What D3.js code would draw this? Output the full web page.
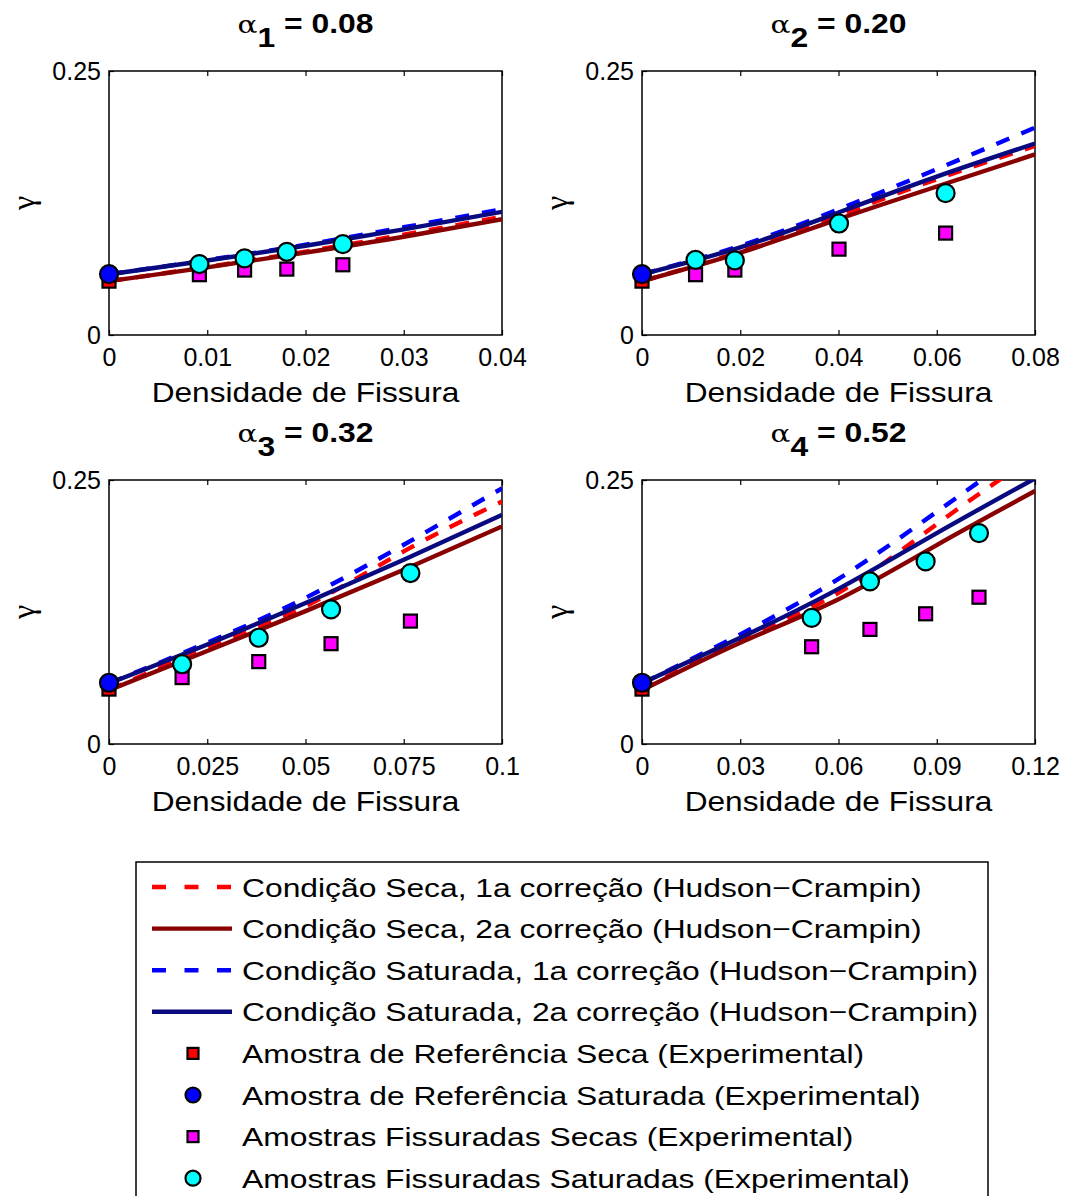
<!DOCTYPE html>
<html><head><meta charset="utf-8">
<script src="https://cdn.jsdelivr.net/npm/d3@7"></script>
<style>
body{margin:0;background:#fff;}
svg{display:block;font-family:"Liberation Sans",Arial,sans-serif;}
</style></head>
<body><svg id="c" width="1070" height="1196"></svg>
<script>
// ---------- DATA ----------
const alphaIndex = ["1","2","3","4"];
const alphaValues = ["0.08","0.20","0.32","0.52"];
const xMax = [0.04, 0.08, 0.1, 0.12];
const xTickValues = [
  [0,0.01,0.02,0.03,0.04],
  [0,0.02,0.04,0.06,0.08],
  [0,0.025,0.05,0.075,0.1],
  [0,0.03,0.06,0.09,0.12]
];
const xTickLabels = [
  ["0","0.01","0.02","0.03","0.04"],
  ["0","0.02","0.04","0.06","0.08"],
  ["0","0.025","0.05","0.075","0.1"],
  ["0","0.03","0.06","0.09","0.12"]
];
const yTickValues = [0, 0.25];
const yTickLabels = ["0","0.25"];
const xLabel = "Densidade de Fissura";
const yLabel = "γ";

// model curves: crack density grid per panel
const curveX = [
  [0,0.01,0.02,0.03,0.04],
  [0,0.02,0.04,0.06,0.08],
  [0,0.025,0.05,0.075,0.1],
  [0,0.03,0.06,0.09,0.12]
];
const dryHC1 = [
  [0.051,0.0645,0.079,0.095,0.112],
  [0.051,0.079,0.113,0.1475,0.179],
  [0.051,0.0912,0.1305,0.1824,0.2296],
  [0.051,0.099,0.1431,0.2082,0.273]
];
const dryHC2 = [
  [0.051,0.064,0.078,0.093,0.1097],
  [0.051,0.078,0.1097,0.1406,0.171],
  [0.051,0.088,0.1258,0.1651,0.206],
  [0.051,0.0959,0.1371,0.1884,0.2396]
];
const satHC1 = [
  [0.0575,0.071,0.0855,0.102,0.119],
  [0.0575,0.0845,0.119,0.157,0.1964],
  [0.0575,0.0959,0.1384,0.1887,0.2421],
  [0.0575,0.1038,0.1563,0.2199,0.286]
];
const satHC2 = [
  [0.0575,0.0705,0.0845,0.100,0.1166],
  [0.0575,0.083,0.116,0.150,0.1813],
  [0.0575,0.0943,0.1336,0.1745,0.217],
  [0.0575,0.1006,0.1469,0.1997,0.2515]
];
// experimental
const refDryGamma = [0.051,0.051,0.052,0.052];
const refSatGamma = [0.0577,0.0577,0.058,0.058];
const crackDensity = [
  [0.0092,0.0138,0.0181,0.0238],
  [0.0109,0.0189,0.0401,0.0618],
  [0.0186,0.0381,0.0565,0.0767],
  [0.0518,0.0696,0.0866,0.1029]
];
const dryGamma = [
  [0.0571,0.0615,0.0624,0.0665],
  [0.0571,0.0615,0.0813,0.0965],
  [0.0629,0.078,0.095,0.1164],
  [0.0921,0.1085,0.1233,0.139]
];
const satGamma = [
  [0.0672,0.0725,0.0788,0.0861],
  [0.0712,0.0706,0.1056,0.1343],
  [0.0755,0.1006,0.1274,0.1619],
  [0.1195,0.154,0.1729,0.1997]
];
const legendLabels = [
  "Condição Seca, 1a correção (Hudson−Crampin)",
  "Condição Seca, 2a correção (Hudson−Crampin)",
  "Condição Saturada, 1a correção (Hudson−Crampin)",
  "Condição Saturada, 2a correção (Hudson−Crampin)",
  "Amostra de Referência Seca (Experimental)",
  "Amostra de Referência Saturada (Experimental)",
  "Amostras Fissuradas Secas (Experimental)",
  "Amostras Fissuradas Saturadas (Experimental)"
];

// ---------- STYLE ----------
const lineStyles = [
  {color:"#ff0000", dash:"14,13"},
  {color:"#880000", dash:null},
  {color:"#0000ff", dash:"14,13"},
  {color:"#0a0a80", dash:null}
];
const markerStyles = [
  {shape:"square", fill:"#ff0000"},
  {shape:"circle", fill:"#0000ff"},
  {shape:"square", fill:"#ff00ff"},
  {shape:"circle", fill:"#00ffff"}
];
const panelPos = [
  {x:109, y:71}, {x:642, y:71}, {x:109, y:480}, {x:642, y:480}
];
const PW = 393, PH = 264;

const svg = d3.select("#c");
const defs = svg.append("defs");

function drawMarker(g, shape, fill, cx, cy, size){
  if(shape==="square"){
    g.append("rect").attr("x",cx-size/2).attr("y",cy-size/2)
      .attr("width",size).attr("height",size)
      .attr("fill",fill).attr("stroke","#000").attr("stroke-width",2.2);
  } else {
    g.append("circle").attr("cx",cx).attr("cy",cy).attr("r",size/2)
      .attr("fill",fill).attr("stroke","#000").attr("stroke-width",2.2);
  }
}
function stretchedText(g, x, y, sx, anchor){
  return g.append("text").attr("transform",`translate(${x},${y}) scale(${sx},1)`)
    .attr("text-anchor",anchor).attr("fill","#000");
}

for(let p=0;p<4;p++){
  const pos = panelPos[p];
  const g = svg.append("g").attr("transform",`translate(${pos.x},${pos.y})`);
  const x = d3.scaleLinear().domain([0,xMax[p]]).range([0,PW]);
  const y = d3.scaleLinear().domain([0,0.25]).range([PH,0]);

  defs.append("clipPath").attr("id","clip"+p)
    .append("rect").attr("width",PW).attr("height",PH);

  // axes
  const xb = d3.axisBottom(x).tickValues(xTickValues[p])
    .tickFormat((d,i)=>xTickLabels[p][i]).tickSizeInner(-5).tickSizeOuter(0).tickPadding(13);
  const gx = g.append("g").attr("transform",`translate(0,${PH})`).call(xb);
  const xt = d3.axisTop(x).tickValues(xTickValues[p]).tickFormat("").tickSizeInner(-5).tickSizeOuter(0);
  const gxt = g.append("g").call(xt);
  const yl = d3.axisLeft(y).tickValues(yTickValues)
    .tickFormat((d,i)=>yTickLabels[i]).tickSizeInner(-5).tickSizeOuter(0).tickPadding(8);
  const gy = g.append("g").call(yl);
  [gx,gxt,gy].forEach(a=>{
    a.select(".domain").remove();
    a.selectAll("line").attr("stroke","#000").attr("stroke-width",1.2);
    a.selectAll("text").attr("fill","#000").style("font-size","25px")
      .style("font-family","'Liberation Sans',Arial,sans-serif");
  });
  g.append("rect").attr("width",PW).attr("height",PH)
    .attr("fill","none").attr("stroke","#000").attr("stroke-width",1.5);

  // curves
  const series = [dryHC1[p], dryHC2[p], satHC1[p], satHC2[p]];
  const line = d3.line().x((d,i)=>x(curveX[p][i])).y(d=>y(d)).curve(d3.curveNatural);
  const lg = g.append("g").attr("clip-path",`url(#clip${p})`);
  series.forEach((s,k)=>{
    lg.append("path").attr("d",line(s)).attr("fill","none")
      .attr("stroke",lineStyles[k].color).attr("stroke-width",4.4)
      .attr("stroke-dasharray",lineStyles[k].dash);
  });

  // markers
  const mg = g.append("g");
  drawMarker(mg,"square",markerStyles[0].fill,x(0),y(refDryGamma[p]),13);
  drawMarker(mg,"circle",markerStyles[1].fill,x(0),y(refSatGamma[p]),18);
  crackDensity[p].forEach((cd,i)=>{
    drawMarker(mg,"square",markerStyles[2].fill,x(cd),y(dryGamma[p][i]),13);
  });
  crackDensity[p].forEach((cd,i)=>{
    drawMarker(mg,"circle",markerStyles[3].fill,x(cd),y(satGamma[p][i]),18);
  });

  // title
  const t = stretchedText(g, PW/2, -38, 1.18, "middle").style("font-size","27px");
  t.append("tspan").style("font-family","'DejaVu Serif','Liberation Serif',serif").style("font-size","25px").text("α");
  t.append("tspan").attr("dy",14).style("font-weight","bold").text(alphaIndex[p]);
  t.append("tspan").attr("dy",-14).style("font-weight","bold").text(" = " + alphaValues[p]);

  // x label
  stretchedText(g, PW/2, PH+67, 1.11, "middle").style("font-size","28.5px").text(xLabel);
  // y label
  g.append("text").attr("transform",`translate(-85,${PH/2}) rotate(-90)`)
    .attr("text-anchor","middle").attr("dy","0.3em")
    .attr("fill","#000").style("font-family","'Liberation Serif',serif")
    .style("font-size","32px").text(yLabel);
}

// legend
const LX = 136, LY = 862, LW = 852, rowH = 41.6;
const leg = svg.append("g").attr("transform",`translate(${LX},${LY})`);
leg.append("rect").attr("width",LW).attr("height",360).attr("fill","#fff")
  .attr("stroke","#000").attr("stroke-width",1.5);
legendLabels.forEach((lab,i)=>{
  const cy = 25 + i*rowH;
  if(i<4){
    leg.append("line").attr("x1",16).attr("x2",96).attr("y1",cy).attr("y2",cy)
      .attr("stroke",lineStyles[i].color).attr("stroke-width",4.4)
      .attr("stroke-dasharray",lineStyles[i].dash ? "14,18.5" : null);
  } else {
    const m = markerStyles[i-4];
    drawMarker(leg,m.shape,m.fill,57,cy,m.shape==="square"?11:15);
  }
  stretchedText(leg, 106, cy, 1.2, "start").attr("dy","0.36em")
    .style("font-size","26.5px").text(lab);
});
</script></body></html>
